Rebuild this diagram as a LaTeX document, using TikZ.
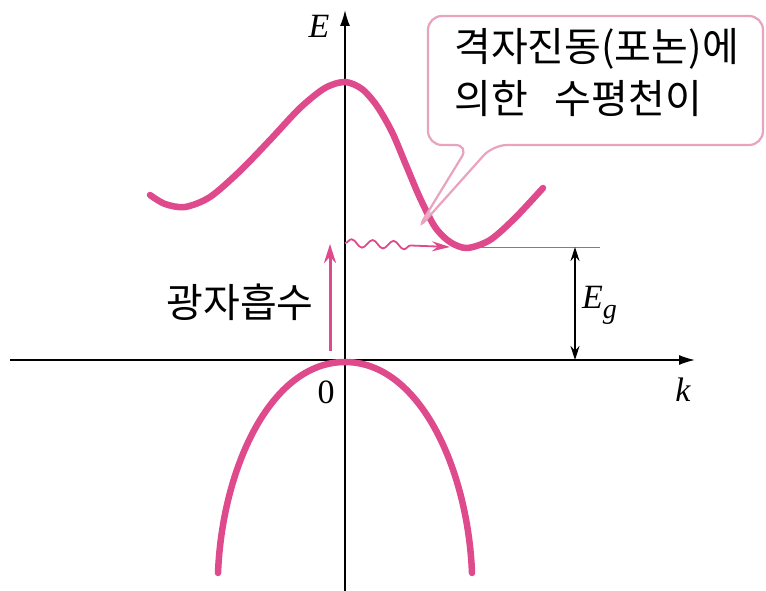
\documentclass[tikz,border=0pt]{standalone}
\usepackage{fontspec}
\setmainfont{Liberation Serif}
\newfontfamily\kr{Noto Sans CJK KR}
\usetikzlibrary{arrows.meta,decorations.pathmorphing}
\definecolor{band}{HTML}{DE4A8C}
\definecolor{notepink}{HTML}{E9A3BF}
\definecolor{level}{HTML}{7F7F7F}
\tikzset{
  bandline/.style={draw=band, line width=6.5pt, line cap=round},
  axis/.style={-{Latex[length=16pt,width=10pt]}, line width=1.6pt, draw=black},
  gaparrow/.style={{Stealth[length=14pt,width=9pt]}-{Stealth[length=14pt,width=9pt]}, line width=1.3pt},
  photon/.style={-{Stealth[length=19pt,width=12pt]}, line width=3pt, draw=band},
  phonon/.style={-{Stealth[length=18pt,width=10pt]}, line width=1.8pt, draw=band,
                 decorate, decoration={snake, amplitude=4pt, segment length=21pt, post length=34pt}},
  callout/.style={draw=notepink, line width=2.2pt, fill=white, fill opacity=0.6, draw opacity=1,
                  rounded corners=14pt},
  lbl/.style={font=\fontsize{34}{38}\selectfont\itshape, inner sep=0pt},
  krtext/.style={font=\fontsize{40}{52}\selectfont\kr, inner sep=0pt, align=left}
}
\begin{document}
\begin{tikzpicture}[x=1pt,y=-1pt]
    \useasboundingbox (0,0) rectangle (766,591);
    % axes
    \coordinate (Ebot) at (345,591);
    \coordinate (Etop) at (345,10);
    \coordinate (kstart) at (10,360);
    \coordinate (kend) at (695,360);
    \draw[axis] (Ebot) -- (Etop);
    \draw[axis] (kstart) -- (kend);
    \node[lbl] (Elabel) at (319,26) {E};
    \node[lbl] (klabel) at (683,390) {k};
    \node[lbl, font=\fontsize{34}{38}\selectfont] (zero) at (326,392) {0};

    % bands
    \draw[bandline] plot[smooth, tension=0.5] coordinates {
      (150,195) (165,204) (185,207) (210,197) (240,171) (270,140) (300,108)
      (325,88) (345,82) (362,89) (377,106) (392,132) (406,165) (420,198)
      (435,227) (450,242) (467,248) (490,240) (515,218) (543,188)};
    \draw[bandline] (218,573) .. controls (222,470) and (270,362) .. (345,362)
                    .. controls (420,362) and (468,470) .. (472,573);

    % gap
    \coordinate (cbmin) at (467,247);
    \coordinate (gapend) at (600,247);
    \coordinate (egtop) at (575,247);
    \coordinate (egbot) at (575,360);
    \draw[level, line width=1pt] (cbmin) -- (gapend);
    \draw[gaparrow] (egtop) -- (egbot);
    \node[lbl, anchor=west] (Eg) at (582,305) {E\raisebox{-0.3em}{\fontsize{28}{30}\selectfont g}};

    % callout
    \path[callout] (600,16) -- (763,16) -- (763,145) -- (493,145) -- (417,230)
      -- (469,145) -- (428,145) -- (428,16) -- cycle;
    \node[krtext, anchor=north west] (note) at (454,28) {격자진동(포논)에\\의한\hspace{0.45em} 수평천이};

    % transitions
    \coordinate (photonstart) at (330,351);
    \coordinate (photonend) at (330,244);
    \draw[photon] (photonstart) -- (photonend);
    \node[krtext] (absorb) at (240,302) {광자흡수};
    \coordinate (phononstart) at (345,243);
    \coordinate (phononend) at (450,247);
    \draw[phonon] (phononstart) -- (phononend);
\end{tikzpicture}
\end{document}
